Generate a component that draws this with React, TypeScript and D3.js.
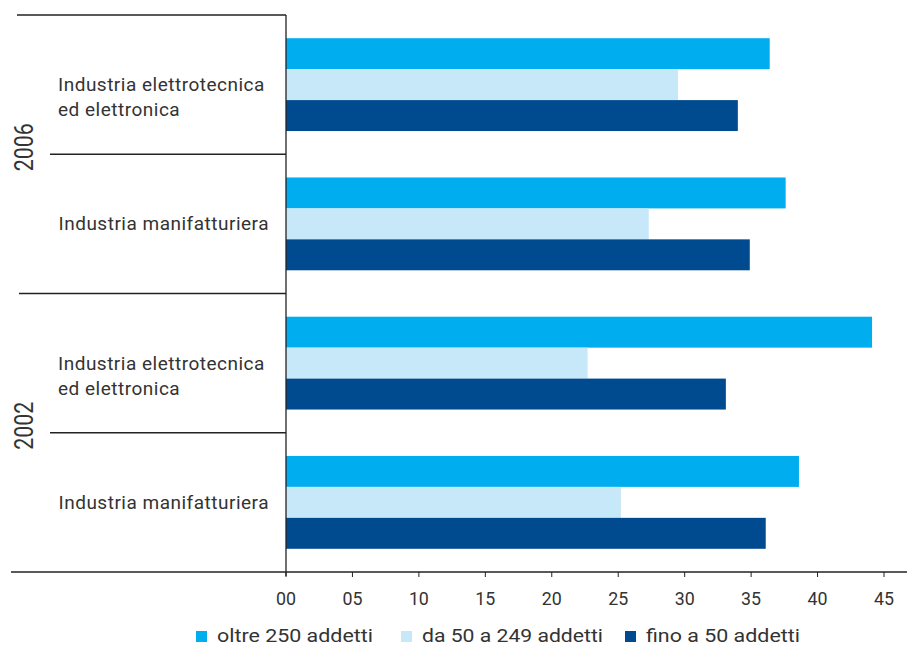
import React from "react";
import * as d3 from "d3";

const years = ["2006", "2002"];
const categories = [
  ["Industria elettrotecnica", "ed elettronica"],
  ["Industria manifatturiera"],
];
const seriesNames = ["oltre 250 addetti", "da 50 a 249 addetti", "fino a 50 addetti"];
const seriesColors = ["#00AEEF", "#C7E8F8", "#004A8F"];
// rows: 2006 elettro, 2006 manif, 2002 elettro, 2002 manif
const oltre = [36.4, 37.6, 44.1, 38.6];
const da50 = [29.5, 27.3, 22.7, 25.2];
const fino = [34.0, 34.9, 33.1, 36.1];
const xTicks = [0, 5, 10, 15, 20, 25, 30, 35, 40, 45];

const W = 907;
const H = 648;

export default function App() {
  const rows = [0, 1, 2, 3];
  const x = d3.scaleLinear().domain([0, 45]).range([286, 884]);
  const y = d3.scaleBand<number>().domain(rows).range([15, 572]).padding(0);
  const inner = d3
    .scaleBand<number>()
    .domain([0, 1, 2])
    .range([0, y.bandwidth()])
    .paddingInner(0)
    .paddingOuter(0.75);
  const values = [oltre, da50, fino];
  const fmt = d3.format("02d");
  const font = "Roboto, 'Open Sans', sans-serif";
  const axisColor = "#222";
  const textColor = "#333";

  const legendX = [196, 401, 625];
  const legendLen = [156, 181, 154];

  return (
    <svg width={W} height={H} style={{ position: "absolute", left: 0, top: 0 }}>
      <rect width={W} height={H} fill="#fff" />
      {rows.map((r) =>
        values.map((vals, s) => (
          <rect
            key={`${r}-${s}`}
            x={x(0)}
            y={(y(r) as number) + (inner(s) as number)}
            width={x(vals[r]) - x(0)}
            height={inner.bandwidth()}
            fill={seriesColors[s]}
          />
        ))
      )}
      <line x1={17} x2={286} y1={15} y2={15} stroke={axisColor} strokeWidth={1.3} />
      <line x1={11} x2={907} y1={572} y2={572} stroke={axisColor} strokeWidth={1.3} />
      <line x1={286} x2={286} y1={15} y2={576} stroke={axisColor} strokeWidth={1.3} />
      {rows.slice(1).map((r) => (
        <line
          key={`sep${r}`}
          x1={r === 2 ? 19 : 50}
          x2={286}
          y1={y(r) as number}
          y2={y(r) as number}
          stroke={axisColor}
          strokeWidth={1.3}
        />
      ))}
      {xTicks.map((t) => (
        <g key={`t${t}`}>
          <line x1={x(t)} x2={x(t)} y1={572} y2={577} stroke={axisColor} strokeWidth={1} />
          <text
            x={x(t)}
            y={605}
            textAnchor="middle"
            fontFamily={font}
            fontWeight={400}
            fontSize={19}
            textLength={20}
            lengthAdjust="spacingAndGlyphs"
            fill={textColor}
          >
            {fmt(t)}
          </text>
        </g>
      ))}
      {rows.map((r) => {
        const lines = categories[r % 2];
        const cy = (y(r) as number) + y.bandwidth() / 2;
        const multi = lines.length > 1;
        return (
          <text
            key={`c${r}`}
            x={multi ? 58 : 269}
            y={cy + 6.5}
            textAnchor={multi ? "start" : "end"}
            fontFamily={font}
            fontWeight={400}
            fontSize={19}
            letterSpacing={0.5}
            fill={textColor}
          >
            {lines.map((l, i) => (
              <tspan key={i} x={multi ? 58 : 269} dy={i === 0 ? 0 : 25}>
                {l}
              </tspan>
            ))}
          </text>
        );
      })}
      {years.map((yr, i) => {
        const cy = (y(i * 2 + 1) as number) - 7;
        return (
          <text
            key={yr}
            transform={`translate(33, ${cy}) rotate(-90)`}
            textAnchor="middle"
            fontFamily={font}
            fontWeight={400}
            fontSize={26}
            textLength={48}
            lengthAdjust="spacingAndGlyphs"
            fill={textColor}
          >
            {yr}
          </text>
        );
      })}
      {seriesNames.map((n, i) => (
        <g key={n}>
          <rect x={legendX[i]} y={631} width={11} height={11} fill={seriesColors[i]} />
          <text
            x={legendX[i] + 21}
            y={642}
            fontFamily={font}
            fontWeight={400}
            fontSize={18}
            textLength={legendLen[i]}
            lengthAdjust="spacingAndGlyphs"
            fill={textColor}
          >
            {n}
          </text>
        </g>
      ))}
    </svg>
  );
}
